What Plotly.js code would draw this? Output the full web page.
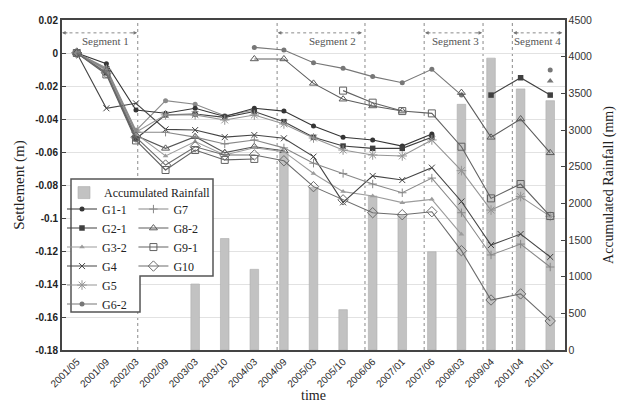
<!DOCTYPE html>
<html><head><meta charset="utf-8">
<script src="https://cdn.plot.ly/plotly-3.0.1.min.js"></script>
<style>html,body{margin:0;padding:0;background:#fff}#chart{width:620px;height:403px}</style>
</head><body><div id="chart"></div>
<script>
const categories = ['2001/05','2001/09','2002/03','2002/09','2003/03','2003/10','2004/03','2004/09','2005/03','2005/10','2006/06','2007/01','2007/06','2008/03','2009/04','2001/04','2011/01'];
const rainfall = [null,null,null,null,900,1520,1100,2700,2220,550,2100,1830,1340,3350,3980,3560,3400];

const g1_1 = [0,-0.0065,-0.0345,-0.0365,-0.0335,-0.0385,-0.0335,-0.0352,-0.0442,-0.0511,-0.0527,-0.0564,-0.0491,null,null,null,null];
const g2_1 = [0,-0.012,-0.052,-0.0375,-0.037,-0.039,-0.0355,-0.0416,-0.0511,-0.0564,-0.0578,-0.0578,-0.0511,null,-0.0255,-0.015,-0.0255];
const g3_2 = [0,-0.011,-0.049,-0.0624,-0.0537,-0.0618,-0.0574,-0.0598,-0.073,-0.084,-0.0867,-0.0907,-0.0887,-0.1099,null,null,null];
const g4   = [0,-0.0335,-0.0305,-0.0463,-0.0467,-0.051,-0.0497,-0.0517,-0.0628,-0.0905,-0.0745,-0.077,-0.0695,-0.090,-0.1164,-0.1097,-0.1236];
const g5   = [0,-0.010,-0.048,-0.0375,-0.0375,-0.0406,-0.0376,-0.043,-0.0515,-0.0588,-0.0618,-0.0624,-0.0527,-0.0713,-0.0952,-0.087,-0.099];
const g6_1 = [0,-0.009,-0.047,-0.0289,-0.0311,-0.038,-0.0345,null,null,null,null,null,null,null,null,null,null];
const g6_2 = [null,null,null,null,null,null,0.0034,0.0018,-0.0059,-0.0093,-0.0143,-0.018,-0.0099,-0.0255,null,null,-0.0103];
const g7   = [0,-0.010,-0.048,-0.048,-0.051,-0.0551,-0.0527,-0.0575,-0.0668,-0.073,-0.0794,-0.0847,-0.0758,-0.0968,-0.1224,-0.1158,-0.1297];
const g8_1 = [0,-0.010,-0.050,-0.0578,-0.0507,-0.0604,-0.0568,-0.0592,null,null,null,null,null,null,null,null,null];
const g8_2 = [null,null,null,null,null,null,-0.0036,-0.0036,-0.0184,-0.028,-0.0321,-0.0352,null,-0.024,-0.0511,-0.040,-0.0605];
const g8_3 = [null,null,null,null,null,null,null,null,null,null,null,null,null,null,null,null,-0.017];
const g9_1 = [0,-0.013,-0.053,-0.0709,-0.0588,-0.0648,-0.0642,null,null,-0.0228,-0.0301,-0.0352,-0.0366,-0.0568,-0.0881,-0.0794,-0.0988];
const g10  = [0,-0.012,-0.051,-0.0679,-0.0568,-0.0618,-0.0618,-0.0653,-0.081,-0.089,-0.0968,-0.098,-0.0962,-0.1198,-0.1497,-0.146,-0.1624];

const yTickVals = [0.02,0,-0.02,-0.04,-0.06,-0.08,-0.1,-0.12,-0.14,-0.16,-0.18];
const yTickText = ['0.02','0','-0.02','-0.04','-0.06','-0.08','-0.1','-0.12','-0.14','-0.16','-0.18'];

function series(name, y, color, symbol, size, legend, show) {
  const open = symbol.indexOf('open') >= 0;
  return {
    type: 'scatter', mode: 'lines+markers', x: categories, y: y, yaxis: 'y2',
    name: name, legend: legend || 'legend2', showlegend: show !== false,
    connectgaps: false,
    line: {color: color, width: 1.1},
    marker: {symbol: symbol, size: size, color: color,
             line: {color: color, width: open ? 1 : 0}}
  };
}

const traces = [
  {type: 'bar', x: categories, y: rainfall, yaxis: 'y', name: 'Accumulated Rainfall',
   width: 0.29, marker: {color: '#c2c2c2', line: {color: '#adadad', width: 0.6}}, legend: 'legend'},
  series('G6-1', g6_1, '#8a8a8a', 'circle', 5, 'legend2', false),
  series('G8-1', g8_1, '#555555', 'triangle-up-open', 7, 'legend2', false),
  series('G8-3', g8_3, '#777777', 'triangle-up', 6, 'legend2', false),
  series('G1-1', g1_1, '#353535', 'circle', 5),
  series('G2-1', g2_1, '#404040', 'square', 5.5),
  series('G3-2', g3_2, '#9c9c9c', 'triangle-up', 5),
  series('G4', g4, '#454545', 'x-thin-open', 6),
  series('G5', g5, '#959595', 'asterisk-open', 8),
  series('G6-2', g6_2, '#777777', 'circle', 5),
  Object.assign(series('G7', g7, '#888888', 'cross-thin-open', 6), {legend: 'legend3'}),
  Object.assign(series('G8-2', g8_2, '#5c5c5c', 'triangle-up-open', 7), {legend: 'legend3'}),
  Object.assign(series('G9-1', g9_1, '#626262', 'square-open', 7), {legend: 'legend3'}),
  Object.assign(series('G10', g10, '#6c6c6c', 'diamond-open', 8), {legend: 'legend3'})
];

const serif = 'Liberation Serif, Times New Roman, serif';
const sans = 'Liberation Sans, Arial, sans-serif';

const dividers = [2.06, 6.77, 9.74, 11.74, 13.73, 14.72];
const segments = [
  {name: 'Segment 1', x0: -0.5, x1: 2.04, lx: 0.98},
  {name: 'Segment 2', x0: 6.79, x1: 9.64, lx: 8.63},
  {name: 'Segment 3', x0: 11.77, x1: 13.7, lx: 12.79},
  {name: 'Segment 4', x0: 14.75, x1: 16.41, lx: 15.56}
];
const shapes = [];
dividers.forEach(d => shapes.push({type: 'line', xref: 'x', yref: 'paper', x0: d, x1: d, y0: 0, y1: 1,
  line: {color: '#8a8a8a', width: 1, dash: 'dot'}, layer: 'below'}));
const annotations = [];
segments.forEach(s => {
  shapes.push({type: 'line', xref: 'x', yref: 'y2', x0: s.x0 + 0.05, x1: s.x1 - 0.05, y0: 0.0122, y1: 0.0122,
    line: {color: '#8a8a8a', width: 1, dash: 'dot'}});
  annotations.push({xref: 'x', yref: 'y2', x: s.x1, y: 0.0122, text: '', showarrow: true,
    ax: -7, ay: 0, arrowhead: 2, arrowsize: 0.9, arrowwidth: 0.8, arrowcolor: '#777'});
  annotations.push({xref: 'x', yref: 'y2', x: s.x0, y: 0.0122, text: '', showarrow: true,
    ax: 7, ay: 0, arrowhead: 2, arrowsize: 0.9, arrowwidth: 0.8, arrowcolor: '#777'});
  annotations.push({xref: 'x', yref: 'y2', x: s.lx, y: 0.0072, text: s.name, showarrow: false,
    font: {family: serif, size: 11, color: '#555'}});
});
shapes.push({type: 'path', xref: 'paper', yref: 'paper',
  path: 'M0.0179,0.5182 L0.3002,0.5182 L0.3002,0.2242 L0.1551,0.2242 L0.1551,0.1152 L0.0179,0.1152 Z',
  fillcolor: '#ffffff', line: {color: '#555', width: 1.5}, layer: 'above'});

const legFont = {family: serif, size: 12, color: '#222'};
const layout = {
  width: 620, height: 403,
  margin: {l: 62, r: 55, t: 20, b: 53},
  paper_bgcolor: '#fff', plot_bgcolor: '#fff',
  showlegend: true,
  xaxis: {type: 'category', categoryorder: 'array', categoryarray: categories,
    range: [-0.5, 16.5], tickangle: -45, tickfont: {family: sans, size: 10, color: '#2a2a2a'},
    showline: true, linecolor: '#444', linewidth: 2, mirror: true, showgrid: false, ticks: '',
    title: {text: 'time', font: {family: serif, size: 14, color: '#222'}, standoff: 2}},
  yaxis: {side: 'right', range: [0, 4500], dtick: 500, showgrid: false, zeroline: false,
    showline: true, linecolor: '#444', linewidth: 1.5, ticks: 'inside', ticklen: 4, tickcolor: '#444',
    tickfont: {family: sans, size: 10.5, color: '#333'},
    title: {text: 'Accumulated Rainfall (mm)', font: {family: serif, size: 14, color: '#222'}, standoff: 12}},
  yaxis2: {overlaying: 'y', side: 'left', range: [-0.18, 0.02], tickvals: yTickVals, ticktext: yTickText,
    showgrid: true, gridcolor: '#e2e2e2', gridwidth: 1, zeroline: false,
    showline: true, linecolor: '#444', linewidth: 2, ticks: 'inside', ticklen: 4, tickcolor: '#444',
    tickfont: {family: sans, size: 10, color: '#222', weight: 'bold'},
    title: {text: 'Settlement (m)', font: {family: serif, size: 15, color: '#222'}, standoff: 7}},
  legend: {x: 0.004, y: 0.521, xanchor: 'left', yanchor: 'top', bgcolor: 'rgba(0,0,0,0)', borderwidth: 0, font: legFont},
  legend2: {x: 0.0, y: 0.471, xanchor: 'left', yanchor: 'top', bgcolor: 'rgba(0,0,0,0)', borderwidth: 0, font: legFont, tracegroupgap: 0},
  legend3: {x: 0.142, y: 0.471, xanchor: 'left', yanchor: 'top', bgcolor: 'rgba(0,0,0,0)', borderwidth: 0, font: legFont, tracegroupgap: 0},
  shapes: shapes,
  annotations: annotations
};

Plotly.newPlot('chart', traces, layout, {displayModeBar: false, staticPlot: true});
</script></body></html>
